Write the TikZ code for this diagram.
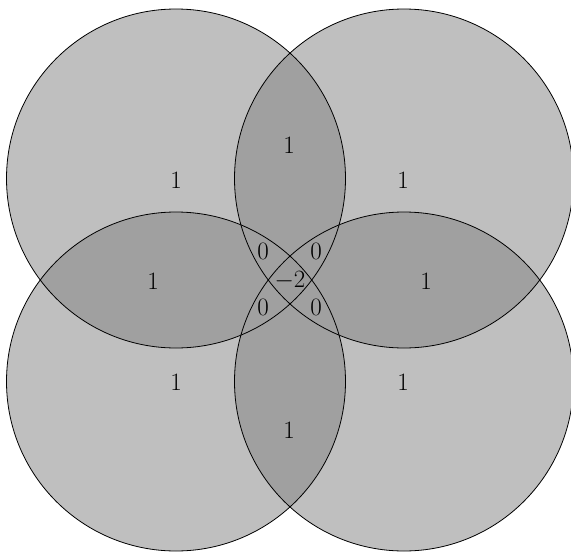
\documentclass[tikz,border=0pt]{standalone}
\definecolor{singlegray}{HTML}{BFBFBF}
\definecolor{multigray}{HTML}{A0A0A0}
\definecolor{centergray}{HTML}{9C9C9C}
\tikzset{
  ring/.style={draw=black, line width=0.8pt},
  lab/.style={font=\fontsize{25}{30}\selectfont, inner sep=0pt}
}
\begin{document}
\begin{tikzpicture}[x=1pt,y=-1pt]
\useasboundingbox (0,0) rectangle (571,552);
\def\R{169.5pt}
\coordinate (A) at (176,178.5);
\coordinate (B) at (404,178.5);
\coordinate (C) at (176,381.5);
\coordinate (D) at (404,381.5);
% single regions
\foreach \c in {A,B,C,D} { \fill[singlegray] (\c) circle (\R); }
% pairwise overlaps
\begin{scope}
  \clip (A) circle (\R);
  \fill[multigray] (B) circle (\R);
  \fill[multigray] (C) circle (\R);
  \fill[multigray] (D) circle (\R);
\end{scope}
\begin{scope}
  \clip (B) circle (\R);
  \fill[multigray] (C) circle (\R);
  \fill[multigray] (D) circle (\R);
\end{scope}
\begin{scope}
  \clip (C) circle (\R);
  \fill[multigray] (D) circle (\R);
\end{scope}
% four-fold overlap
\begin{scope}
  \clip (A) circle (\R);
  \clip (B) circle (\R);
  \clip (C) circle (\R);
  \fill[centergray] (D) circle (\R);
\end{scope}
% outlines
\foreach \c in {A,B,C,D} { \draw[ring] (\c) circle (\R); }
% labels
\node[lab] (sA) at (176,180) {1};
\node[lab] (sB) at (403,180) {1};
\node[lab] (sC) at (176,382) {1};
\node[lab] (sD) at (403,382) {1};
\node[lab] (pT) at (289,145) {1};
\node[lab] (pB) at (289,430) {1};
\node[lab] (pL) at (153,281) {1};
\node[lab] (pR) at (426,281) {1};
\node[lab] (tTL) at (263,251) {0};
\node[lab] (tTR) at (316,251) {0};
\node[lab] (tBL) at (263,307) {0};
\node[lab] (tBR) at (316,307) {0};
\node[lab] (ctr) at (290,281) {$-2$};
\end{tikzpicture}
\end{document}
